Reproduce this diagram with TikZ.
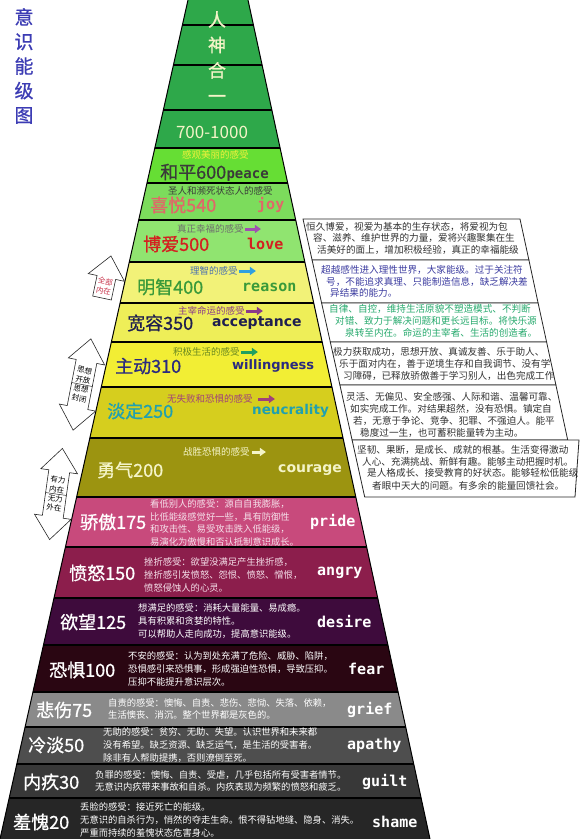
\documentclass[tikz,border=0pt]{standalone}
\usepackage{fontspec}
\newfontfamily\cjk{Noto Sans CJK SC}
\newfontfamily\cjkmid{Noto Sans CJK SC}[FakeBold=0.8]
\newfontfamily\latinw{DejaVu Sans}
\newfontfamily\monow{DejaVu Sans Mono}
\usetikzlibrary{arrows.meta, calc}
% band colours
\definecolor{lvgreen}{RGB}{46,168,74}
\definecolor{lvpeace}{RGB}{102,222,52}
\definecolor{lvjoy}{RGB}{124,220,92}
\definecolor{lvlove}{RGB}{144,228,112}
\definecolor{lvreason}{RGB}{242,242,120}
\definecolor{lvaccept}{RGB}{238,238,88}
\definecolor{lvwill}{RGB}{242,238,52}
\definecolor{lvneutral}{RGB}{214,206,30}
\definecolor{lvcourage}{RGB}{156,148,16}
\definecolor{lvpride}{RGB}{200,74,124}
\definecolor{lvanger}{RGB}{140,30,76}
\definecolor{lvdesire}{RGB}{62,11,60}
\definecolor{lvfear}{RGB}{42,6,18}
\definecolor{lvgrief}{RGB}{138,138,138}
\definecolor{lvapathy}{RGB}{78,78,78}
\definecolor{lvguilt}{RGB}{56,56,56}
\definecolor{lvshame}{RGB}{38,38,38}
% text colours
\definecolor{titleblue}{RGB}{60,60,180}
\definecolor{paleyellow}{RGB}{244,244,200}
\definecolor{capyellow}{RGB}{240,240,60}
\definecolor{peacegray}{RGB}{58,58,58}
\definecolor{joyred}{RGB}{224,104,104}
\definecolor{lovered}{RGB}{212,32,32}
\definecolor{capgray}{RGB}{110,110,110}
\definecolor{arrowpurple}{RGB}{160,80,176}
\definecolor{capblue}{RGB}{74,112,176}
\definecolor{arrowblue}{RGB}{48,160,224}
\definecolor{reasongreen}{RGB}{58,154,58}
\definecolor{cappurple}{RGB}{138,58,138}
\definecolor{acceptnavy}{RGB}{30,30,80}
\definecolor{capolive}{RGB}{106,138,32}
\definecolor{arrowgreen}{RGB}{32,160,96}
\definecolor{willblue}{RGB}{42,42,128}
\definecolor{capmagenta}{RGB}{160,64,122}
\definecolor{neutteal}{RGB}{32,160,176}
\definecolor{pridepink}{RGB}{245,224,234}
\definecolor{notegray}{RGB}{50,50,50}
\definecolor{noteblue}{RGB}{60,60,160}
\definecolor{notegreen}{RGB}{40,170,110}
\definecolor{tagred}{RGB}{200,50,74}

\tikzset{
  lvl/.style={anchor=west, inner sep=0pt, font=\cjkmid\fontsize{18}{18}\selectfont},
  eng/.style={anchor=west, inner sep=0pt, font=\monow\bfseries\fontsize{15}{15}\selectfont},
  engwide/.style={anchor=west, inner sep=0pt, font=\latinw\bfseries\fontsize{14}{14}\selectfont},
  feelcap/.style={anchor=west, inner sep=0pt, font=\cjk\fontsize{9.5}{10}\selectfont},
  desc/.style={anchor=west, inner sep=0pt, align=left, font=\cjk\fontsize{9.3}{12.6}\selectfont},
  notetext/.style={anchor=west, inner sep=0pt, font=\cjk\fontsize{9.6}{10}\selectfont},
  notebox/.style={draw=black!85, fill=white, line width=0.8pt},
  caparrow/.style={line width=3pt, -{Triangle[length=6pt,width=8pt]}},
  hollow/.style={draw=black!85, fill=white, line width=0.6pt, line join=miter},
  tagtext/.style={inner sep=0pt, align=center, font=\cjk\fontsize{7.5}{9.5}\selectfont},
}

\begin{document}
\begin{tikzpicture}[x=1pt, y=-1pt]

  \fill[white] (0,0) rectangle (580,839);
  \useasboundingbox (0,0) rectangle (580,839);

  % 金字塔色带
  \begin{scope}
    \clip (188,0) -- (248,0) -- (430,839) -- (0,839) -- cycle;
    \foreach \ya/\yb/\col in {0/25/lvgreen, 25/65/lvgreen, 65/110/lvgreen, 110/148/lvgreen,
      148/183/lvpeace, 183/220/lvjoy, 220/262/lvlove, 262/303/lvreason, 303/342/lvaccept,
      342/387/lvwill, 387/438/lvneutral, 438/497/lvcourage, 497/547/lvpride, 547/598/lvanger,
      598/645/lvdesire, 645/692/lvfear, 692/727/lvgrief, 727/764/lvapathy, 764/798/lvguilt,
      798/839/lvshame}
      \fill[\col] (0,\ya) rectangle (440,\yb);
    \foreach \y in {25,65,110,148,183,220,262,303,342,387,438,497,547,598,645,692,727,764,798}
      \draw[black, line width=1.3pt] (0,\y) -- (440,\y);
  \end{scope}
  \draw[black, line width=1pt] (188,0) -- (0,839) (248,0) -- (430,839);

  % 标题
  \node[inner sep=0pt, align=center, text=titleblue, font=\cjkmid\fontsize{19}{24.5}\selectfont]
    (title) at (24,66) {意\\识\\能\\级\\图};

  % 顶部
  \node[inner sep=0pt, align=center, text=paleyellow, font=\cjkmid\fontsize{18}{25.5}\selectfont]
    (top) at (217,57) {人\\神\\合\\一};
  \node[inner sep=0pt, text=paleyellow, font=\cjk\fontsize{17}{17}\selectfont] (n700) at (212,132) {700-1000};

  % 和平 600
  \node[feelcap, text=capyellow] (c600) at (182,155) {感观美丽的感受};
  \node[lvl, text=peacegray] (n600) at (160,172) {和平600};
  \node[eng, text=peacegray, anchor=base west, font=\monow\bfseries\fontsize{14}{14}\selectfont] (e600) at (n600.base east) {peace};

  % 喜悦 540
  \node[feelcap, text=peacegray] (c540) at (168,191) {圣人和濒死状态人的感受};
  \node[lvl, text=joyred] (n540) at (150,205) {喜悦540};
  \node[eng, text=joyred] (e540) at (257,205) {joy};

  % 博爱 500
  \node[feelcap, text=capgray] (c500) at (177,229) {真正幸福的感受};
  \draw[caparrow, arrowpurple] ([xshift=1pt]c500.east) -- ++(16,0);
  \node[lvl, text=lovered] (n500) at (143,244) {博爱500};
  \node[eng, text=lovered] (e500) at (247,244) {love};

  % 明智 400
  \node[feelcap, text=capblue] (c400) at (190,271) {理智的感受};
  \draw[caparrow, arrowblue] ([xshift=1pt]c400.east) -- ++(17,0);
  \node[lvl, text=reasongreen] (n400) at (137,287) {明智400};
  \node[eng, text=reasongreen] (e400) at (242,287) {reason};

  % 宽容 350
  \node[feelcap, text=cappurple] (c350) at (178,311) {主宰命运的感受};
  \draw[caparrow, cappurple] ([xshift=1pt]c350.east) -- ++(17,0);
  \node[lvl, text=acceptnavy] (n350) at (127,323) {宽容350};
  \node[engwide, text=acceptnavy] (e350) at (212,323) {acceptance};

  % 主动 310
  \node[feelcap, text=capolive] (c310) at (173,352) {积极生活的感受};
  \draw[caparrow, arrowgreen] ([xshift=1pt]c310.east) -- ++(17,0);
  \node[lvl, text=willblue] (n310) at (115,366) {主动310};
  \node[engwide, text=willblue, font=\latinw\bfseries\fontsize{13}{13}\selectfont] (e310) at (232,366) {willingness};

  % 淡定 250
  \node[feelcap, text=capmagenta] (c250) at (167,399) {无失败和恐惧的感受};
  \draw[caparrow, capmagenta] ([xshift=5pt]c250.east) -- ++(17,0);
  \node[lvl, text=neutteal] (n250) at (107,411) {淡定250};
  \node[engwide, text=neutteal, font=\latinw\bfseries\fontsize{13.5}{13.5}\selectfont] (e250) at (252,411) {neucrality};

  % 勇气 200
  \node[feelcap, text=paleyellow] (c200) at (183,452) {战胜恐惧的感受};
  \draw[caparrow, paleyellow] ([xshift=2pt]c200.east) -- ++(14,0);
  \node[lvl, text=paleyellow] (n200) at (97,470) {勇气200};
  \node[engwide, text=paleyellow] (e200) at (278,470) {courage};

  % 骄傲 175
  \node[lvl, text=white] (n175) at (80,522) {骄傲175};
  \node[desc, text=pridepink] (d175) at (150,523) {看低别人的感受：源自自我膨胀，\\比低能级感觉好一些，具有防御性\\和攻击性、易受攻击跌入低能级，\\易演化为傲慢和否认抵制意识成长。};
  \node[eng, text=white] (e175) at (310,522) {pride};

  % 愤怒 150
  \node[lvl, text=white] (n150) at (69,573) {愤怒150};
  \node[desc, text=pridepink] (d150) at (144,575) {挫折感受：欲望没满足产生挫折感，\\挫折感引发愤怒、怨恨、愤怒、憎恨，\\愤怒侵蚀人的心灵。};
  \node[eng, text=white] (e150) at (317,573) {angry};

  % 欲望 125
  \node[lvl, text=white] (n125) at (60,622) {欲望125};
  \node[desc, text=white] (d125) at (138,621) {想满足的感受：消耗大量能量、易成瘾。\\具有积累和贪婪的特性。\\可以帮助人走向成功，提高意识能级。};
  \node[eng, text=white] (e125) at (317,621) {desire};

  % 恐惧 100
  \node[lvl, text=white] (n100) at (49,670) {恐惧100};
  \node[desc, text=white] (d100) at (128,669) {不安的感受：认为到处充满了危险、威胁、陷阱，\\恐惧感引来恐惧事，形成强迫性恐惧，导致压抑。\\压抑不能提升意识层次。};
  \node[eng, text=white] (e100) at (348,669) {fear};

  % 悲伤 75
  \node[lvl, text=white] (n75) at (36,710) {悲伤75};
  \node[desc, text=white] (d75) at (108,709) {自责的感受：懊悔、自责、悲伤、悲恸、失落、依赖，\\生活懊丧、消沉。整个世界都是灰色的。};
  \node[eng, text=white] (e75) at (347,710) {grief};

  % 冷淡 50
  \node[lvl, text=white] (n50) at (28,745) {冷淡50};
  \node[desc, text=white] (d50) at (103,745) {无助的感受：贫穷、无助、失望。认识世界和未来都\\没有希望。缺乏资源、缺乏运气，是生活的受害者。\\除非有人帮助提携，否则潦倒至死。};
  \node[eng, text=white] (e50) at (347,745) {apathy};

  % 内疚 30
  \node[lvl, text=white] (n30) at (23,782) {内疚30};
  \node[desc, text=white] (d30) at (95,781) {负罪的感受：懊悔、自责、受虐，几乎包括所有受害者情节。\\无意识内疚带来事故和自杀。内疚表现为频繁的愤怒和疲乏。};
  \node[eng, text=white] (e30) at (362,782) {guilt};

  % 羞愧 20
  \node[lvl, text=white] (n20) at (13,822) {羞愧20};
  \node[desc, text=white] (d20) at (80,820) {丢脸的感受：接近死亡的能级。\\无意识的自杀行为，悄然的夺走生命。恨不得钻地缝、隐身、消失。\\严重而持续的羞愧状态危害身心。};
  \node[eng, text=white] (e20) at (372,822) {shame};

  % 右侧说明框
  \foreach \ya/\yb/\la/\lb/\ra/\rb in {219/260/303/312.1/520/528.9, 260/303/312.1/321.6/528.9/538.1,
    303/342/321.6/330.3/538.1/546.6, 342/385/330.3/339.9/546.6/555.9,
    385/440/339.9/352.1/555.9/567.7, 440/497/352.1/364.7/579/575}
    \draw[notebox] (\la,\ya) -- (\ra,\ya) -- (\rb,\yb) -- (\lb,\yb) -- cycle;

  \foreach \x/\y/\c/\t [count=\i] in {
    306/227/notegray/恒久博爱，视爱为基本的生存状态，将爱视为包,
    313/238/notegray/容、滋养、维护世界的力量，爱将兴趣聚集在生,
    317/250/notegray/活美好的面上，增加积极经验，真正的幸福能级,
    321/270/noteblue/超越感性进入理性世界，大家能级。过于关注符,
    326/282/noteblue/号，不能追求真理、只能制造信息，缺乏解决差,
    330/293/noteblue/异结果的能力。,
    329/309/notegreen/自律、自控，维持生活原貌不塑造模式、不判断,
    335/321/notegreen/对错、致力于解决问题和更长远目标。将快乐源,
    345/333/notegreen/泉转至内在。命运的主宰者、生活的创造者。,
    333/352/notegray/极力获取成功，思想开放、真诚友善、乐于助人、,
    339/364/notegray/乐于面对内在，善于逆境生存和自我调节、没有学,
    343/376/notegray/习障碍，已释放骄傲善于学习别人，出色完成工作,
    346/397/notegray/灵活、无偏见、安全感强、人际和谐、温馨可靠、,
    350/409/notegray/如实完成工作。对结果超然，没有恐惧。镇定自,
    353/421/notegray/若，无意于争论、竞争、犯罪、不强迫人。能平,
    360/433/notegray/稳度过一生，也可蓄积能量转为主动。,
    357/450/notegray/坚韧、果断，是成长、成就的根基。生活变得激动,
    362/462/notegray/人心、充满挑战、新鲜有趣。能够主动把握时机。,
    367/473/notegray/是人格成长、接受教育的好状态。能够轻松低能级,
    372/486/notegray/者眼中天大的问题。有多余的能量回馈社会。}
    \node[notetext, text=\c] (note\i) at (\x,\y) {\t};

  % 左侧箭头：全部内在
  \begin{scope}[shift={(102,298)}, rotate=-12]
    \draw[hollow] (-9.5,0) -- (-9.5,-21) -- (-18.5,-21) -- (0,-43) -- (18.5,-21) -- (9.5,-21) -- (9.5,0) -- cycle;
    \node[tagtext, text=tagred, rotate=-12] (tagA) at (0,-12) {全部\\内在};
  \end{scope}

  % 左侧箭头：思想开放 / 思想封闭
  \begin{scope}[shift={(82,384.5)}, rotate=-11]
    \draw[hollow] (0,-46.5) -- (18.5,-23.5) -- (10.5,-23.5) -- (10.5,23.5) -- (18.5,23.5) -- (0,46.5)
      -- (-18.5,23.5) -- (-10.5,23.5) -- (-10.5,-23.5) -- (-18.5,-23.5) -- cycle;
    \draw[black!85, line width=0.5pt] (-10.5,0) -- (10.5,0);
    \node[tagtext, rotate=-11] (tagB) at (0,0) {思想\\开放\\思想\\封闭};
  \end{scope}

  % 左侧箭头：有力内在 / 无力外在
  \begin{scope}[shift={(56,494)}, rotate=-8]
    \draw[hollow] (0,-46) -- (18.5,-23) -- (10.5,-23) -- (10.5,23) -- (18.5,23) -- (0,46)
      -- (-18.5,23) -- (-10.5,23) -- (-10.5,-23) -- (-18.5,-23) -- cycle;
    \draw[black!85, line width=0.5pt] (-10.5,0) -- (10.5,0);
    \node[tagtext, rotate=-8] (tagC) at (0,0) {有力\\内在\\无力\\外在};
  \end{scope}

\end{tikzpicture}
\end{document}
